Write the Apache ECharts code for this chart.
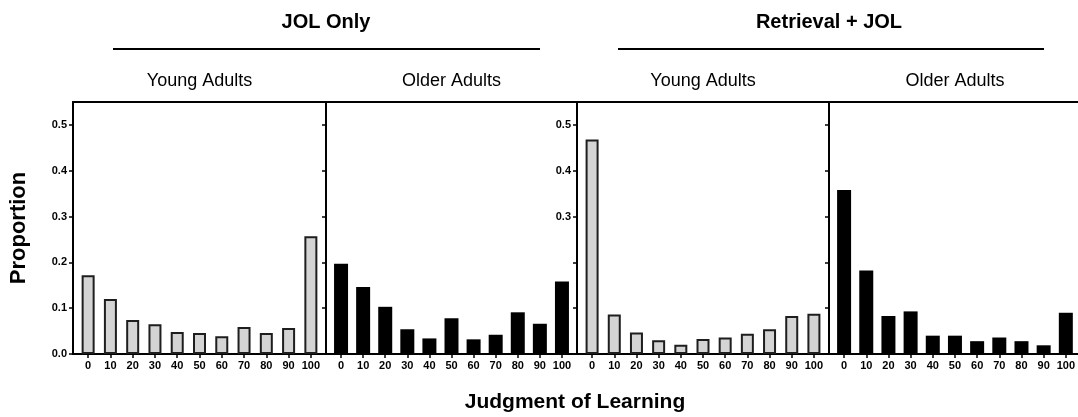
<!DOCTYPE html>
<html>
<head>
<meta charset="utf-8">
<script src="https://cdn.jsdelivr.net/npm/echarts@6/dist/echarts.min.js"></script>
<style>
html,body{margin:0;padding:0;background:#fff;}
#chart{width:1078px;height:417px;}
</style>
</head>
<body>
<div id="chart"></div>
<script>
// ---- data ----
const categories = ['0','10','20','30','40','50','60','70','80','90','100'];
const jolOnlyYoung = [0.172,0.120,0.074,0.065,0.048,0.046,0.039,0.059,0.046,0.057,0.257];
const jolOnlyOlder = [0.197,0.146,0.103,0.054,0.034,0.078,0.032,0.042,0.091,0.066,0.158];
const retJolYoung  = [0.468,0.086,0.047,0.030,0.020,0.033,0.036,0.044,0.054,0.083,0.088];
const retJolOlder  = [0.358,0.182,0.083,0.093,0.040,0.040,0.028,0.036,0.028,0.019,0.090];
const yTicks = [0,0.1,0.2,0.3,0.4,0.5];
const yTicksRet = [0.3,0.4,0.5];
const conditionTitles = ['JOL Only','Retrieval + JOL'];
const groupTitles = ['Young Adults','Older Adults','Young Adults','Older Adults'];
const yName = 'Proportion';
const xName = 'Judgment of Learning';

// ---- layout ----
const FONT = 'Liberation Sans, Arial, sans-serif';
const W = 1078, H = 417;
const TOP = 102, BOTTOM = 354;
const panelEdges = [73, 326, 577, 829, 1081];
const INSET = 4;
const YMAX = 0.55;

const panels = [
  {data: jolOnlyYoung, color: '#d4d4d4', border: '#1e1e1e', bw: 2, barWidth: 13, labels: yTicks},
  {data: jolOnlyOlder, color: '#000000', border: '#000000', bw: 0, barWidth: 14, labels: []},
  {data: retJolYoung,  color: '#d4d4d4', border: '#1e1e1e', bw: 2, barWidth: 13, labels: yTicksRet},
  {data: retJolOlder,  color: '#000000', border: '#000000', bw: 0, barWidth: 14, labels: []}
];

const grid = [], xAxis = [], yAxis = [], series = [];
const frameLine = {show: true, lineStyle: {color: '#000', width: 2}};
const N = panels.length;
// grids 0..N-1 : frames ; grids N..2N-1 : bar areas
panels.forEach((p, i) => {
  const l = panelEdges[i], r = panelEdges[i+1];
  grid.push({left: l, top: TOP, width: r - l, height: BOTTOM - TOP});
});
panels.forEach((p, i) => {
  const l = panelEdges[i] + INSET, r = panelEdges[i+1] - INSET;
  grid.push({left: l, top: TOP, width: r - l, height: BOTTOM - TOP});
});
// yAxis 0..N-1 frame axes
panels.forEach((p, i) => {
  yAxis.push({
    gridIndex: i, type: 'value', min: 0, max: YMAX,
    axisLine: frameLine,
    axisTick: {show: true, customValues: yTicks, length: 4, lineStyle: {color: '#000', width: 1.5}},
    axisLabel: {show: p.labels.length > 0, customValues: p.labels.length ? p.labels : undefined,
      formatter: v => v.toFixed(1), color: '#000', fontWeight: 'bold', fontSize: 11,
      fontFamily: FONT, margin: 6},
    splitLine: {show: false},
    name: i === 0 ? yName : '',
    nameLocation: 'middle', nameGap: 43,
    nameTextStyle: {color: '#000', fontWeight: 'bold', fontSize: 22, fontFamily: FONT}
  });
});
// xAxis 0..N-1 frame bottom lines
panels.forEach((p, i) => {
  xAxis.push({gridIndex: i, type: 'value', min: 0, max: 1, position: 'bottom',
    axisLine: frameLine, axisTick: {show: false}, axisLabel: {show: false}, splitLine: {show: false}});
});
// xAxis N..2N-1 category axes ; yAxis N..2N-1 hidden value axes for bars
panels.forEach((p, i) => {
  xAxis.push({
    gridIndex: N + i, type: 'category', data: categories,
    axisLine: {show: false},
    axisTick: {show: true, alignWithLabel: true, interval: 0, length: 4,
      lineStyle: {color: '#000', width: 1.5}},
    axisLabel: {interval: 0, color: '#000', fontWeight: 'bold', fontSize: 11,
      fontFamily: FONT, margin: 6}
  });
  yAxis.push({gridIndex: N + i, type: 'value', min: 0, max: YMAX, show: false});
  series.push({
    type: 'bar', xAxisIndex: N + i, yAxisIndex: N + i, data: p.data,
    barWidth: p.barWidth, silent: true, animation: false,
    itemStyle: {color: p.color, borderColor: p.border, borderWidth: p.bw}
  });
});
// xAxis 2N..3N-1 frame top lines
panels.forEach((p, i) => {
  xAxis.push({gridIndex: i, type: 'value', min: 0, max: 1, position: 'top',
    axisLine: frameLine, axisTick: {show: false}, axisLabel: {show: false}, splitLine: {show: false}});
});

const graphic = [
  {type: 'text', x: (panelEdges[1]), y: 22, style: {text: conditionTitles[0], align: 'center', verticalAlign: 'middle', font: 'bold 20px ' + FONT, fill: '#000'}},
  {type: 'text', x: (panelEdges[3]), y: 22, style: {text: conditionTitles[1], align: 'center', verticalAlign: 'middle', font: 'bold 20px ' + FONT, fill: '#000'}},
  {type: 'line', shape: {x1: 113, y1: 49, x2: 540, y2: 49}, style: {stroke: '#000', lineWidth: 2}},
  {type: 'line', shape: {x1: 618, y1: 49, x2: 1044, y2: 49}, style: {stroke: '#000', lineWidth: 2}},
  {type: 'text', x: 575, y: 402, style: {text: xName, align: 'center', verticalAlign: 'middle', font: 'bold 21px ' + FONT, fill: '#000'}}
];
groupTitles.forEach((t, i) => {
  graphic.push({type: 'text', x: (panelEdges[i] + panelEdges[i+1]) / 2, y: 81,
    style: {text: t, align: 'center', verticalAlign: 'middle', font: '18px ' + FONT, fill: '#000'}});
});

const chart = echarts.init(document.getElementById('chart'), null, {renderer: 'canvas', width: W, height: H});
chart.setOption({
  backgroundColor: '#fff',
  animation: false,
  grid, xAxis, yAxis, series, graphic
});
</script>
</body>
</html>
